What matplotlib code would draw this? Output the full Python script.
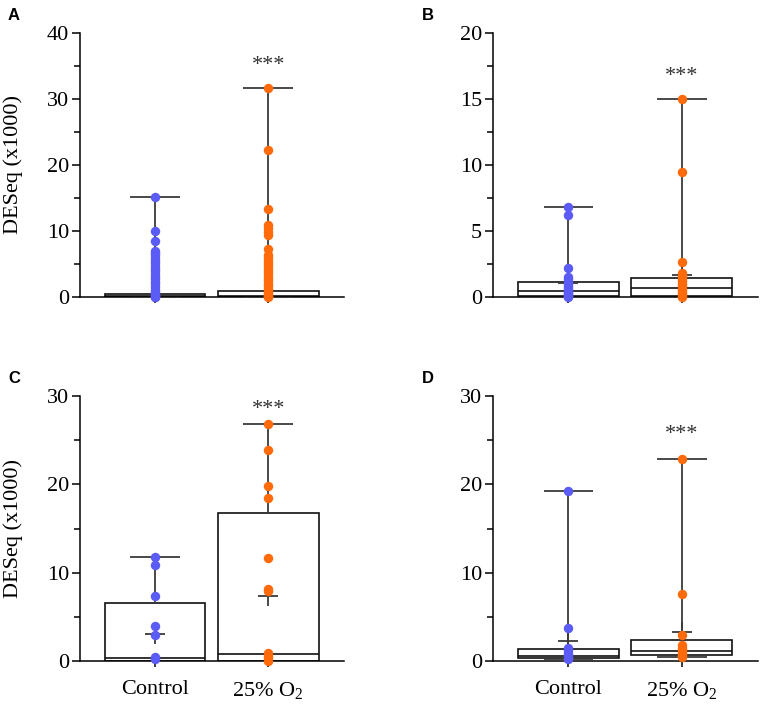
import numpy as np
import matplotlib
matplotlib.use("Agg")
from matplotlib import pyplot as plt
from matplotlib.ticker import MultipleLocator

plt.rcParams['font.family'] = ['Liberation Serif', 'DejaVu Serif']
plt.rcParams['mathtext.fontset'] = 'custom'
plt.rcParams['mathtext.rm'] = 'Liberation Serif'

groups = ['Control', r'25% O$_\mathrm{2}$']
blue = '#5b5bf5'
orange = '#ff6a0a'

# panel A
a_ctrl = [15.1, 10.0, 8.5, 6.9, 6.6, 6.3, 5.9, 5.5, 5.1, 4.7, 4.3, 3.9, 3.5, 3.1,
          2.7, 2.3, 1.9, 1.5, 1.1, 0.8, 0.5, 0.3, 0.15, 0.05, 0.0]
a_o2 = [31.6, 22.3, 13.3, 10.9, 10.4, 9.9, 9.4, 7.3, 6.4, 6.0, 5.6, 5.2, 4.8, 4.4,
        4.0, 3.6, 3.2, 2.8, 2.4, 2.0, 1.6, 1.2, 0.9, 0.6, 0.4, 0.2, 0.1, 0.0]
# box stats: min, q1, median, q3, max, mean
a_stats = [(0.0, 0.0, 0.15, 0.45, 15.1, None), (0.0, 0.0, 0.22, 0.85, 31.6, None)]

# panel B
b_ctrl = [6.84, 6.2, 2.2, 1.55, 1.35, 1.15, 1.0, 0.85, 0.7, 0.55, 0.4, 0.3, 0.2, 0.1, 0.05, 0.0]
b_o2 = [14.98, 9.49, 2.67, 1.8, 1.6, 1.4, 1.2, 1.0, 0.8, 0.6, 0.45, 0.3, 0.2, 0.1, 0.0]
b_stats = [(0.02, 0.05, 0.48, 1.14, 6.84, 1.08), (0.03, 0.07, 0.68, 1.41, 14.98, 1.69)]

# panel C
c_ctrl = [11.8, 10.9, 7.36, 3.96, 2.94, 0.5, 0.2]
c_o2 = [26.8, 23.9, 19.8, 18.5, 11.7, 8.1, 7.9, 0.9, 0.6, 0.3, 0.05]
c_stats = [(0.0, 0.0, 0.38, 6.53, 11.8, 3.06), (0.0, 0.0, 0.75, 16.8, 26.8, 7.4)]

# panel D
d_ctrl = [19.25, 3.77, 1.5, 1.2, 0.9, 0.7, 0.5, 0.35, 0.19]
d_o2 = [22.9, 7.58, 3.0, 1.8, 1.5, 1.2, 0.95, 0.75, 0.6, 0.42]
d_stats = [(0.19, 0.3, 0.57, 1.36, 19.25, 2.3), (0.42, 0.68, 1.1, 2.34, 22.9, 3.25)]

panels = [
    ('A', [a_ctrl, a_o2], a_stats, 40, 10, 35.0),
    ('B', [b_ctrl, b_o2], b_stats, 20, 5, 16.7),
    ('C', [c_ctrl, c_o2], c_stats, 30, 10, 28.45),
    ('D', [d_ctrl, d_o2], d_stats, 30, 10, 25.6),
]

W, H = 764, 705
fig = plt.figure(figsize=(W / 100, H / 100), dpi=100)

# axes rectangles in pixels: left, right, bottom(y), top(y)
rects = [(80, 344, 297, 33), (493, 758, 297, 33), (80, 344, 661, 396), (493, 758, 661, 396)]
letter_pos = [(8, 20), (422, 20), (8, 383), (422, 383)]

box_w = 0.89
cap_w = 0.44
edge = '#111111'
wcol = '#3a3a3a'

for i, (letter, vals, stats, ymax, major, star_y) in enumerate(panels):
    l, r, b, t = rects[i]
    ax = fig.add_axes([l / W, 1 - b / H, (r - l) / W, (b - t) / H])
    for j, (mn, q1, med, q3, mx, mean) in enumerate(stats):
        ax.bar(j, q3 - q1, bottom=q1, width=box_w, facecolor='white',
               edgecolor=edge, linewidth=1.2, zorder=2)
        ax.hlines(med, j - box_w / 2, j + box_w / 2, color=edge, linewidth=1.2, zorder=2)
        ax.vlines(j, q3, mx, color=wcol, linewidth=1.3, zorder=2)
        ax.vlines(j, mn, q1, color=wcol, linewidth=1.3, zorder=2)
        ax.hlines([mx, mn], j - cap_w / 2, j + cap_w / 2, color=wcol, linewidth=1.3, zorder=2)
        if mean is not None:
            ax.plot(j, mean, marker='+', markersize=14, markeredgewidth=1.3,
                    color=wcol, zorder=3)
    for j, v in enumerate(vals):
        ax.plot(np.full(len(v), j), v, 'o', markersize=6.8, color=[blue, orange][j],
                markeredgewidth=0, zorder=4, clip_on=False)
    ax.text(1, star_y, '***', ha='center', va='center', fontsize=16, color='#333333')

    ax.set_xlim(-0.665, 1.67)
    ax.set_ylim(0, ymax)
    ax.yaxis.set_major_locator(MultipleLocator(major))
    ax.yaxis.set_minor_locator(MultipleLocator(major / 2))
    ax.set_xticks([0, 1])
    if i >= 2:
        ax.set_xticklabels(groups, fontsize=16)
    else:
        ax.set_xticklabels([])
    ax.tick_params(axis='y', which='major', length=6, width=1.1, labelsize=16, pad=2)
    ax.tick_params(axis='y', which='minor', length=4.5, width=1.1)
    ax.tick_params(axis='x', length=4, width=1.1, pad=10)
    for s in ['top', 'right']:
        ax.spines[s].set_visible(False)
    for s in ['left', 'bottom']:
        ax.spines[s].set_linewidth(1.1)
    if i % 2 == 0:
        ax.set_ylabel('DESeq (x1000)', fontsize=16)
        ax.yaxis.set_label_coords(-0.215, 0.5)

    lx, ly = letter_pos[i]
    fig.text(lx / W, 1 - ly / H, letter, fontsize=12, fontweight='bold',
             family=['Liberation Sans', 'DejaVu Sans'], va='baseline')

fig.savefig('out.png', dpi=100)
